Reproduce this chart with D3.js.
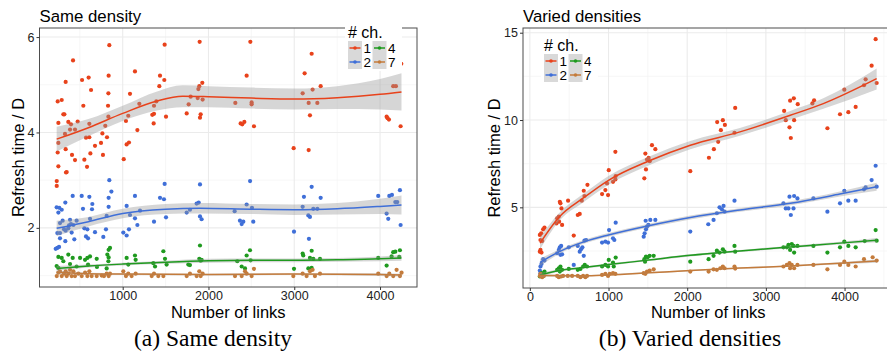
<!DOCTYPE html>
<html>
<head>
<meta charset="utf-8">
<script src="https://cdn.jsdelivr.net/npm/d3@7/dist/d3.min.js"></script>
<style>
  body { margin: 0; background: #fff; }
  svg { display: block; font-family: "Liberation Sans", Arial, sans-serif; }
  .grid-major { stroke: #ebebeb; stroke-width: 1.1; }
  .grid-minor { stroke: #f3f3f3; stroke-width: 0.7; }
  .panel-border { fill: none; stroke: #4d4d4d; stroke-width: 1; }
  .tick-label { font-size: 12.5px; fill: #222; }
  .axis-title { font-size: 16.5px; fill: #000; }
  .plot-title { font-size: 16.8px; fill: #000; }
  .caption { font-family: "Liberation Serif", "DejaVu Serif", serif; font-size: 23.5px; fill: #000; }
</style>
</head>
<body>
<svg id="chart" width="887" height="354"></svg>
<script>
// number of channels in the legend
const channels = ["1", "2", "4", "7"];
const colors = { "1": "#e8421b", "2": "#3f6fd8", "4": "#1f9a1f", "7": "#c47b3b" };

// (a) same density : [links, refresh time / D]
const sameCh1 = [[250,4.20],[242,4.65],[289,4.68],[308,4.38],[320,4.38],[335,5.06],[327,3.97],[250,3.78],[242,3.58],[250,3.29],
  [335,3.65],[339,3.16],[366,4.22],[397,4.17],[386,4.06],[421,5.51],[409,3.53],[444,3.42],[444,4.06],[475,4.23],[526,5.10],
  [541,4.56],[553,3.43],[572,3.89],[611,3.90],[584,3.28],[603,5.15],[611,4.18],[631,4.89],[623,3.56],[677,3.72],[747,3.78],
  [763,3.98],[770,3.53],[797,4.14],[817,3.90],[829,4.56],[833,4.82],[836,5.19],[844,5.83],[833,4.33],[1012,3.44],[1046,3.75],
  [1073,3.79],[1038,4.24],[1065,4.35],[1085,4.81],[1143,5.28],[1171,4.05],[1194,4.60],[1345,4.37],[1365,4.39],[1361,4.19],
  [1365,4.56],[1392,4.65],[1427,4.97],[1435,5.19],[1485,5.10],[1489,5.84],[1505,4.33],[1746,4.40],[1769,4.59],[1792,4.75],
  [1874,4.72],[1882,4.91],[1893,4.97],[1901,4.31],[1909,4.38],[1897,5.90],[1928,5.04],[1932,4.69],[2313,4.62],[2375,4.19],
  [2394,4.17],[2418,4.22],[2445,5.19],[2488,5.90],[2503,4.63],[2503,4.59],[2530,4.13],[2993,3.67],[3098,4.82],[3121,5.24],
  [3168,4.62],[3168,3.63],[3183,4.36],[3203,5.65],[3214,4.90],[3269,4.62],[3308,4.97],[4077,4.33],[4088,4.30],[4104,4.27],
  [4154,4.97],[4185,4.97],[4240,4.13],[4248,5.44],[231,2.98],[231,2.88],[347,3.17]];
const sameCh2 = [[230,2.43],[261,2.42],[289,2.38],[250,2.32],[331,2.53],[417,2.67],[522,2.67],[537,2.40],[611,2.65],[642,2.39],
  [646,2.50],[836,2.63],[836,2.44],[868,2.76],[844,3.00],[1489,2.92],[1901,2.91],[2485,2.98],[1143,2.67],[1046,2.46],[1085,2.27],
  [1143,2.20],[1202,2.36],[1365,2.13],[1435,2.63],[1505,2.22],[1481,2.60],[1746,2.32],[1784,2.38],[1862,2.51],[1886,2.53],
  [1901,2.24],[1920,2.18],[2305,2.35],[2445,2.49],[2507,2.42],[2522,2.13],[2367,2.15],[2406,2.13],[2387,2.08],[2997,1.92],
  [3098,2.44],[3113,2.65],[3164,2.26],[3171,1.77],[3183,2.23],[3203,2.86],[3222,2.40],[3269,2.40],[3308,2.63],[3979,2.67],
  [4077,2.30],[4096,2.19],[4108,2.67],[4139,2.69],[4178,2.54],[4201,2.54],[4232,2.79],[4240,2.06],[238,1.89],[269,1.89],
  [316,1.97],[335,1.94],[374,2.05],[366,1.99],[386,2.17],[425,2.06],[436,1.76],[405,1.90],[331,1.72],[269,1.78],[219,1.56],
  [238,1.58],[258,1.60],[463,2.15],[553,1.99],[572,1.82],[596,1.78],[619,2.19],[588,1.97],[677,1.91],[774,1.81],[805,1.97],
  [813,2.25],[1007,1.90],[1046,1.84],[1073,1.97],[1171,2.06],[300,2.15],[269,2.10],[397,2.08]];
const sameCh4 = [[250,1.39],[289,1.37],[308,1.30],[366,1.44],[417,1.37],[503,1.37],[561,1.33],[588,1.37],[619,1.40],[697,1.35],
  [821,1.44],[836,1.54],[836,1.38],[852,1.58],[833,1.30],[1046,1.37],[1143,1.42],[1151,1.33],[1065,1.23],[1474,1.51],[1493,1.35],
  [1377,1.19],[1357,1.26],[1512,1.23],[1901,1.63],[1893,1.35],[1909,1.31],[1920,1.33],[1765,1.23],[1784,1.22],[2336,1.30],
  [2445,1.42],[2484,1.53],[2491,1.32],[2387,1.19],[2426,1.15],[2997,1.14],[3098,1.46],[3105,1.42],[3203,1.52],[3183,1.37],
  [3222,1.35],[3300,1.35],[3164,1.15],[3203,1.16],[3979,1.37],[4077,1.21],[4135,1.40],[4154,1.49],[4178,1.50],[4232,1.53],
  [4224,1.39],[250,1.16],[463,1.19],[596,1.23],[813,1.15],[386,1.24],[230,1.20],[700,1.18]];
const sameCh7 = [[231,0.99],[250,1.06],[269,1.09],[289,0.99],[316,1.04],[335,1.09],[347,0.99],[366,1.04],[386,1.12],[405,0.99],
  [425,1.09],[444,0.99],[483,1.04],[522,0.99],[561,1.06],[588,0.99],[611,1.09],[638,0.99],[697,0.99],[755,1.00],[782,0.99],
  [813,1.04],[836,0.99],[852,1.04],[1007,1.09],[1038,0.99],[1065,1.04],[1104,0.99],[1151,1.04],[1338,0.99],[1365,1.04],
  [1415,0.99],[1474,0.99],[1746,0.99],[1784,1.04],[1862,0.99],[1893,1.09],[1909,0.99],[1932,1.04],[2309,0.99],[2387,0.99],
  [2426,1.09],[2445,1.04],[2530,1.14],[2503,0.99],[2989,0.99],[3098,1.04],[3144,0.99],[3183,1.09],[3214,1.12],[3241,0.99],
  [3300,1.04],[3979,1.04],[4077,0.99],[4108,1.04],[4154,0.99],[4193,1.12],[4232,0.99],[4251,1.06]];

// (a) smooth fits : [links, fit, lower, upper]
const sameFit1 = [[230,3.86,3.60,4.12],[600,4.10,3.92,4.28],[1000,4.40,4.24,4.56],[1400,4.66,4.46,4.86],[1700,4.76,4.53,4.99],
  [2000,4.75,4.53,4.97],[2500,4.72,4.50,4.94],[3000,4.70,4.48,4.92],[3500,4.73,4.49,4.97],[4000,4.80,4.48,5.12],[4250,4.85,4.46,5.24]];
const sameFit2 = [[230,1.99,1.83,2.15],[600,2.13,2.03,2.23],[1000,2.30,2.20,2.40],[1500,2.39,2.29,2.50],[1900,2.41,2.30,2.52],
  [2500,2.39,2.29,2.50],[3000,2.38,2.27,2.49],[3500,2.40,2.28,2.52],[4000,2.45,2.29,2.61],[4250,2.48,2.28,2.68]];
const sameFit4 = [[230,1.15,1.10,1.20],[600,1.20,1.17,1.23],[1000,1.24,1.21,1.27],[1500,1.28,1.25,1.31],[2000,1.31,1.27,1.35],
  [2500,1.32,1.28,1.36],[3000,1.32,1.28,1.36],[3500,1.33,1.29,1.37],[4000,1.35,1.30,1.40],[4250,1.37,1.31,1.43]];
const sameFit7 = [[230,1.07,1.04,1.10],[600,1.04,1.02,1.06],[1000,1.03,1.01,1.05],[2000,1.02,1.00,1.04],[3000,1.03,1.01,1.05],
  [4000,1.02,0.99,1.05],[4250,1.01,0.98,1.04]];

// (b) varied densities : [links, refresh time / D]
const variedCh1 = [[1003,7.13],[1087,8.18],[1091,6.79],[1468,8.08],[1476,7.17],[1455,6.66],[1489,7.74],[1510,7.83],[1523,7.64],
  [1552,8.56],[1595,8.33],[2039,7.07],[2276,7.84],[2339,8.33],[2394,8.75],[2381,9.88],[2453,9.99],[2428,9.42],[2479,9.72],
  [2601,9.27],[2610,10.69],[3232,10.52],[3253,9.99],[3300,9.58],[3308,11.11],[3317,8.97],[3355,11.24],[3359,9.99],[3405,10.91],
  [3591,10.95],[3613,11.13],[3782,9.53],[3942,10.33],[3997,11.74],[4048,10.45],[4141,10.75],[4247,11.99],[4268,12.33],
  [4344,13.11],[4395,14.63],[4408,12.12],[135,2.56],[127,2.46],[148,2.41],[144,3.51],[169,3.74],[186,3.84],[135,3.13],[157,3.07],
  [127,3.42],[347,4.37],[368,4.47],[389,5.23],[381,5.32],[402,4.94],[372,4.18],[338,4.08],[410,3.99],[486,5.38],[558,3.38],
  [609,4.56],[634,4.62],[660,5.38],[694,5.65],[685,5.95],[732,6.29],[918,5.76],[960,5.99],[981,6.37],[994,5.70],[1057,6.46],
  [1087,6.60]];
const variedCh2 = [[127,1.38],[135,1.61],[148,1.76],[169,2.03],[186,1.95],[135,1.23],[347,2.37],[368,2.56],[381,2.71],[398,2.79],
  [410,2.31],[389,2.28],[495,2.71],[558,1.70],[609,2.79],[634,2.46],[651,2.60],[668,2.71],[694,3.09],[715,3.13],[685,2.22],
  [918,2.98],[960,3.04],[994,2.98],[1007,3.70],[1057,3.23],[1074,3.13],[1091,4.12],[1447,3.32],[1459,3.51],[1476,3.74],
  [1489,3.89],[1506,3.99],[1472,4.23],[1531,4.28],[1595,4.28],[2039,3.61],[2268,4.03],[2335,4.28],[2377,4.66],[2411,5.00],
  [2441,4.89],[2462,5.08],[2475,4.75],[2601,5.38],[3223,5.23],[3253,4.94],[3287,4.94],[3300,5.61],[3317,4.56],[3351,4.94],
  [3359,5.65],[3401,5.51],[3604,5.51],[3782,4.75],[3942,5.23],[3997,5.95],[4048,5.38],[4141,5.38],[4247,6.03],[4268,6.14],
  [4344,6.56],[4408,6.18],[4395,7.38]];
const variedCh4 = [[127,1.04],[148,1.23],[169,1.07],[186,1.32],[347,1.42],[368,1.51],[389,1.61],[410,1.42],[381,1.32],[495,1.47],
  [609,1.42],[643,1.47],[677,1.61],[698,1.70],[727,1.61],[918,1.61],[960,1.70],[1003,1.99],[994,1.61],[1057,1.84],[1091,2.12],
  [1066,1.61],[1455,2.03],[1476,2.18],[1497,2.14],[1523,2.22],[1574,2.22],[1464,1.89],[2039,1.89],[2272,2.03],[2335,2.22],
  [2377,2.52],[2411,2.41],[2453,2.60],[2475,2.46],[2601,2.79],[2610,2.46],[3223,2.71],[3266,2.71],[3287,2.85],[3308,2.56],
  [3329,2.90],[3351,2.79],[3359,2.41],[3401,2.79],[3604,2.79],[3782,2.41],[3942,2.71],[3997,3.04],[4048,2.79],[4141,2.71],
  [4256,3.07],[4395,3.70],[4408,3.09]];
const variedCh7 = [[127,1.07],[135,1.19],[157,1.00],[178,1.07],[347,1.07],[368,1.00],[398,1.04],[423,1.07],[482,1.07],[537,1.07],
  [609,1.07],[643,1.00],[677,1.07],[706,1.00],[727,1.07],[918,1.13],[960,1.19],[994,1.07],[1015,1.19],[1057,1.23],[1087,1.19],
  [1447,1.23],[1489,1.32],[1523,1.38],[1574,1.45],[1468,1.19],[2039,1.32],[2272,1.32],[2335,1.45],[2377,1.42],[2420,1.51],
  [2453,1.61],[2475,1.51],[2601,1.61],[2610,1.49],[3223,1.61],[3266,1.70],[3300,1.80],[3308,1.51],[3329,1.70],[3359,1.51],
  [3401,1.70],[3604,1.70],[3782,1.45],[3942,1.70],[3997,1.89],[4048,1.70],[4141,1.61],[4247,2.03],[4357,2.14],[4408,1.95]];

// (b) smooth fits : [links, fit, lower, upper]
const variedFit1 = [[130,2.95,2.60,3.30],[370,4.43,4.20,4.66],[685,5.55,5.31,5.79],[1000,6.55,6.30,6.80],[1510,7.65,7.40,7.90],
  [2040,8.56,8.32,8.80],[2670,9.32,9.10,9.54],[3310,10.27,10.02,10.52],[3730,10.94,10.64,11.24],[4408,12.37,11.75,12.95]];
const variedFit2 = [[130,1.85,1.64,2.06],[370,2.45,2.33,2.57],[685,3.02,2.91,3.13],[1000,3.42,3.31,3.53],[1510,3.95,3.84,4.06],
  [2040,4.42,4.31,4.53],[2670,4.85,4.75,4.95],[3310,5.23,5.12,5.34],[3940,5.76,5.62,5.90],[4408,6.18,5.95,6.41]];
const variedFit4 = [[130,1.13,1.02,1.24],[370,1.38,1.31,1.45],[685,1.55,1.49,1.61],[1000,1.72,1.66,1.78],[1510,1.98,1.92,2.04],
  [2040,2.25,2.19,2.31],[2670,2.50,2.44,2.56],[3310,2.73,2.66,2.80],[3940,2.95,2.87,3.03],[4408,3.12,3.00,3.24]];
const variedFit7 = [[130,1.10,1.02,1.18],[685,1.08,1.04,1.12],[1000,1.13,1.09,1.17],[1510,1.25,1.21,1.29],[2040,1.38,1.34,1.42],
  [2670,1.52,1.48,1.56],[3310,1.64,1.59,1.69],[3940,1.80,1.74,1.86],[4408,1.92,1.83,2.01]];

// ticks
const sameXTicks = [1000, 2000, 3000, 4000];
const sameXMinor = [500, 1500, 2500, 3500];
const sameYTicks = [2, 4, 6];
const sameYMinor = [1, 3, 5];
const variedXTicks = [0, 1000, 2000, 3000, 4000];
const variedXMinor = [500, 1500, 2500, 3500, 4500];
const variedYTicks = [5, 10, 15];
const variedYMinor = [2.5, 7.5, 12.5];

const svg = d3.select("#chart");

function drawPanel(cfg) {
  const x = d3.scaleLinear().domain(cfg.xDomain).range([cfg.left, cfg.right]);
  const y = d3.scaleLinear().domain(cfg.yDomain).range([cfg.bottom, cfg.top]);
  const g = svg.append("g");

  const clipId = cfg.id + "-clip";
  svg.append("clipPath").attr("id", clipId).append("rect")
    .attr("x", cfg.left).attr("y", cfg.top)
    .attr("width", cfg.right - cfg.left).attr("height", cfg.bottom - cfg.top);

  // grid
  const grid = g.append("g").attr("clip-path", `url(#${clipId})`);
  grid.selectAll(".gy-minor").data(cfg.yMinor).enter().append("line")
    .attr("class", "grid-minor").attr("x1", cfg.left).attr("x2", cfg.right)
    .attr("y1", d => y(d)).attr("y2", d => y(d));
  grid.selectAll(".gx-minor").data(cfg.xMinor).enter().append("line")
    .attr("class", "grid-minor").attr("y1", cfg.top).attr("y2", cfg.bottom)
    .attr("x1", d => x(d)).attr("x2", d => x(d));
  grid.selectAll(".gy-major").data(cfg.yTicks).enter().append("line")
    .attr("class", "grid-major").attr("x1", cfg.left).attr("x2", cfg.right)
    .attr("y1", d => y(d)).attr("y2", d => y(d));
  grid.selectAll(".gx-major").data(cfg.xTicks).enter().append("line")
    .attr("class", "grid-major").attr("y1", cfg.top).attr("y2", cfg.bottom)
    .attr("x1", d => x(d)).attr("x2", d => x(d));

  // points, then smooth ribbons + lines
  const plot = g.append("g").attr("clip-path", `url(#${clipId})`);
  channels.forEach(ch => {
    plot.append("g").selectAll("circle").data(cfg.points[ch]).enter().append("circle")
      .attr("cx", d => x(d[0])).attr("cy", d => y(d[1])).attr("r", 2.1)
      .attr("fill", colors[ch]);
  });
  const area = d3.area().curve(d3.curveMonotoneX)
    .x(d => x(d[0])).y0(d => y(d[2])).y1(d => y(d[3]));
  const line = d3.line().curve(d3.curveMonotoneX)
    .x(d => x(d[0])).y(d => y(d[1]));
  channels.forEach(ch => {
    plot.append("path").datum(cfg.fits[ch]).attr("d", area)
      .attr("fill", "#999").attr("fill-opacity", 0.4);
    plot.append("path").datum(cfg.fits[ch]).attr("d", line)
      .attr("fill", "none").attr("stroke", colors[ch]).attr("stroke-width", 1.5);
  });

  // border
  g.append("rect").attr("class", "panel-border")
    .attr("x", cfg.left).attr("y", cfg.top)
    .attr("width", cfg.right - cfg.left).attr("height", cfg.bottom - cfg.top);

  // axes
  const xAxis = d3.axisBottom(x).tickValues(cfg.xTicks).tickSize(3).tickPadding(1.5).tickFormat(d3.format("d"));
  const gx = g.append("g").attr("transform", `translate(0,${cfg.bottom})`).call(xAxis);
  const yAxis = d3.axisLeft(y).tickValues(cfg.yTicks).tickSize(3).tickPadding(2).tickFormat(d3.format("d"));
  const gy = g.append("g").attr("transform", `translate(${cfg.left},0)`).call(yAxis);
  [gx, gy].forEach(a => {
    a.select(".domain").remove();
    a.selectAll(".tick line").attr("stroke", "#333");
    a.selectAll(".tick text").attr("class", "tick-label").attr("font-family", null).attr("font-size", null);
  });

  // titles
  g.append("text").attr("class", "plot-title").attr("x", cfg.left).attr("y", 21.5).text(cfg.title);
  g.append("text").attr("class", "axis-title").attr("text-anchor", "middle")
    .attr("x", (cfg.left + cfg.right) / 2).attr("y", 318).text("Number of links");
  g.append("text").attr("class", "axis-title").attr("text-anchor", "middle")
    .attr("transform", `translate(${cfg.yTitleX},${(cfg.top + cfg.bottom) / 2}) rotate(-90)`)
    .text("Refresh time / D");
  g.append("text").attr("class", "caption").attr("text-anchor", "middle")
    .attr("x", cfg.captionX).attr("y", 346).text(cfg.caption);

  // legend
  const lg = g.append("g").attr("transform", `translate(${cfg.legend[0]},${cfg.legend[1]})`);
  lg.append("rect").attr("x", -3).attr("y", -15).attr("width", 57).attr("height", 46).attr("fill", "#fff");
  lg.append("text").attr("x", 0).attr("y", -2).attr("font-size", 16).text("# ch.");
  const key = 14;
  channels.forEach((ch, i) => {
    const col = Math.floor(i / 2), row = i % 2;
    const kx = col * 24.5, ky = 1 + row * key;
    const k = lg.append("g").attr("transform", `translate(${kx},${ky})`);
    k.append("rect").attr("width", key).attr("height", key).attr("fill", "#d9d9d9");
    k.append("line").attr("x1", 1.5).attr("x2", key - 1.5).attr("y1", key / 2).attr("y2", key / 2)
      .attr("stroke", colors[ch]).attr("stroke-width", 1.5);
    k.append("circle").attr("cx", key / 2).attr("cy", key / 2).attr("r", 1.8).attr("fill", colors[ch]);
    k.append("text").attr("x", key + 1.5).attr("y", key / 2 + 4.5).attr("font-size", 13.5).text(ch);
  });
}

drawPanel({
  id: "same", title: "Same density", caption: "(a) Same density",
  left: 39.5, right: 417, top: 28, bottom: 287,
  xDomain: [30, 4431], yDomain: [0.76, 6.19],
  xTicks: sameXTicks, xMinor: sameXMinor, yTicks: sameYTicks, yMinor: sameYMinor,
  points: { "1": sameCh1, "2": sameCh2, "4": sameCh4, "7": sameCh7 },
  fits: { "1": sameFit1, "2": sameFit2, "4": sameFit4, "7": sameFit7 },
  yTitleX: 24, captionX: 213, legend: [348, 40]
});

drawPanel({
  id: "varied", title: "Varied densities", caption: "(b) Varied densities",
  left: 523, right: 893.5, top: 28, bottom: 288,
  xDomain: [-87, 4622], yDomain: [0.38, 15.27],
  xTicks: variedXTicks, xMinor: variedXMinor, yTicks: variedYTicks, yMinor: variedYMinor,
  points: { "1": variedCh1, "2": variedCh2, "4": variedCh4, "7": variedCh7 },
  fits: { "1": variedFit1, "2": variedFit2, "4": variedFit4, "7": variedFit7 },
  yTitleX: 500, captionX: 690, legend: [544, 53]
});
</script>
</body>
</html>
